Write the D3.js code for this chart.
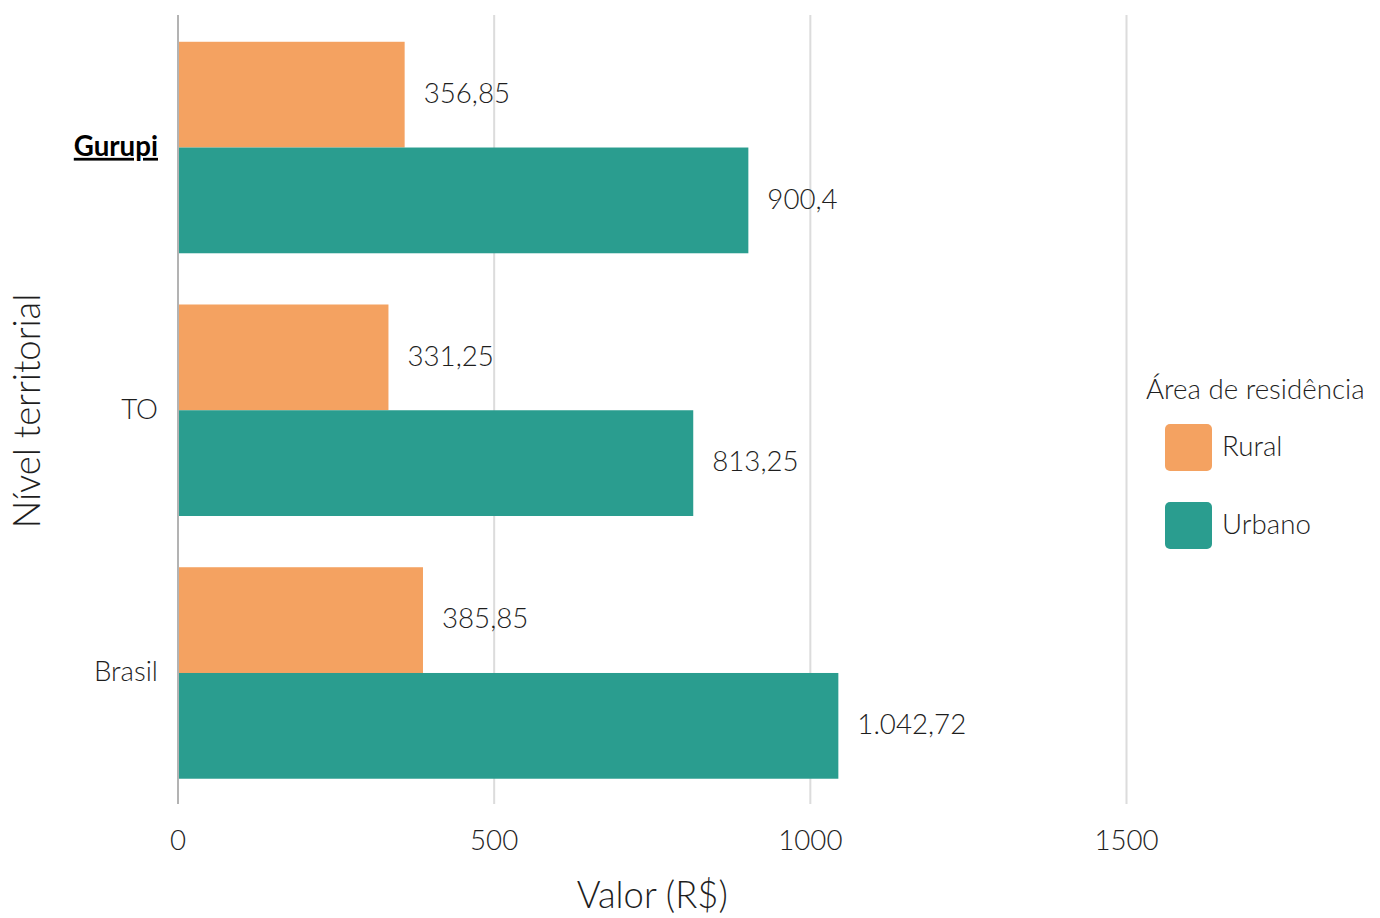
<!DOCTYPE html>
<html>
<head>
<meta charset="utf-8">
<title>Valor por área de residência</title>
<script src="https://cdn.jsdelivr.net/npm/d3@7"></script>
<style>
  * { margin:0; padding:0; }
  body { background:#fff; }
  svg text { font-family: Lato, "Open Sans", sans-serif; font-weight:300; fill:#1e1e1e; }
</style>
</head>
<body>
<div id="chart"></div>
<script>
// dados
var niveis = ["Gurupi", "TO", "Brasil"];
var areas = ["Rural", "Urbano"];
var rural = [356.85, 331.25, 385.85];
var urbano = [900.4, 813.25, 1042.72];
var xTicks = [0, 500, 1000, 1500];
var cores = ["#f4a261", "#2a9d8f"];

var W = 1380, H = 918;
var fs = "27.7px", fsTitulo = "36.4px";
var svg = d3.select("#chart").append("svg").attr("width", W).attr("height", H);

var x = d3.scaleLinear().domain([0, 1500]).range([178, 1126.5]);
var y = d3.scaleBand().domain(niveis).range([15.5, 805]).paddingInner(0.195).paddingOuter(0.1);
var ySub = d3.scaleBand().domain(areas).range([0, y.bandwidth()]);
var cor = d3.scaleOrdinal().domain(areas).range(cores);

var fmt = d3.formatLocale({decimal: ",", thousands: ".", grouping: [3], currency: ["R$", ""]});
var fmtVal = function(v){
  // até 2 casas, sem zeros à direita
  var s = fmt.format(",.2f")(v);
  return s.replace(/,?0+$/, "");
};

// grade
svg.append("g").selectAll("line").data(xTicks).enter().append("line")
  .attr("x1", d => x(d)).attr("x2", d => x(d))
  .attr("y1", 15).attr("y2", 804)
  .attr("stroke", d => d === 0 ? "#b3b3b3" : "#dcdcdc")
  .attr("stroke-width", 2);

var linhas = [];
niveis.forEach(function(n, i){
  linhas.push({nivel:n, area:"Rural", v:rural[i]});
  linhas.push({nivel:n, area:"Urbano", v:urbano[i]});
});

var g = svg.append("g");
g.selectAll("rect").data(linhas).enter().append("rect")
  .attr("x", x(0) + 1)
  .attr("y", d => y(d.nivel) + ySub(d.area))
  .attr("width", d => x(d.v) - x(0))
  .attr("height", ySub.bandwidth())
  .attr("fill", d => cor(d.area));

g.selectAll("text.val").data(linhas).enter().append("text")
  .attr("class", "val")
  .attr("x", d => x(d.v) + 20)
  .attr("y", d => y(d.nivel) + ySub(d.area) + ySub.bandwidth() / 2)
  .attr("dy", "0.3em")
  .style("font-size", fs)
  .text(d => fmtVal(d.v));

// eixo x
var ax = svg.append("g").attr("transform", "translate(0,840)");
ax.selectAll("text").data(xTicks).enter().append("text")
  .attr("x", d => x(d)).attr("dy", "0.36em")
  .attr("text-anchor", "middle")
  .style("font-size", fs)
  .text(d => d);

svg.append("text").attr("x", x(750)).attr("y", 908)
  .attr("text-anchor", "middle").style("font-size", fsTitulo)
  .text("Valor (R$)");

// eixo y
svg.append("g").selectAll("text").data(niveis).enter().append("text")
  .attr("x", 158)
  .attr("y", d => y(d) + y.bandwidth() / 2)
  .attr("dy", "0.3em")
  .attr("text-anchor", "end")
  .style("font-size", fs)
  .style("font-weight", d => d === "Gurupi" ? 700 : 300)
  .style("fill", d => d === "Gurupi" ? "#000" : null)
  .style("text-decoration", d => d === "Gurupi" ? "underline" : null)
  .text(d => d);

svg.append("text")
  .attr("transform", "translate(40,411) rotate(-90)")
  .attr("text-anchor", "middle").style("font-size", fsTitulo)
  .text("Nível territorial");

// legenda
var leg = svg.append("g").attr("transform", "translate(1146,0)");
leg.append("text").attr("x", 0).attr("y", 399).style("font-size", fs).text("Área de residência");
var item = leg.selectAll("g.item").data(areas).enter().append("g")
  .attr("transform", (d, i) => "translate(19," + (424 + i * 78) + ")");
item.append("rect").attr("width", 47).attr("height", 47).attr("rx", 5)
  .attr("fill", d => cor(d));
item.append("text").attr("x", 57).attr("y", 23.5).attr("dy", "0.3em")
  .style("font-size", fs).text(d => d);
</script>
</body>
</html>
